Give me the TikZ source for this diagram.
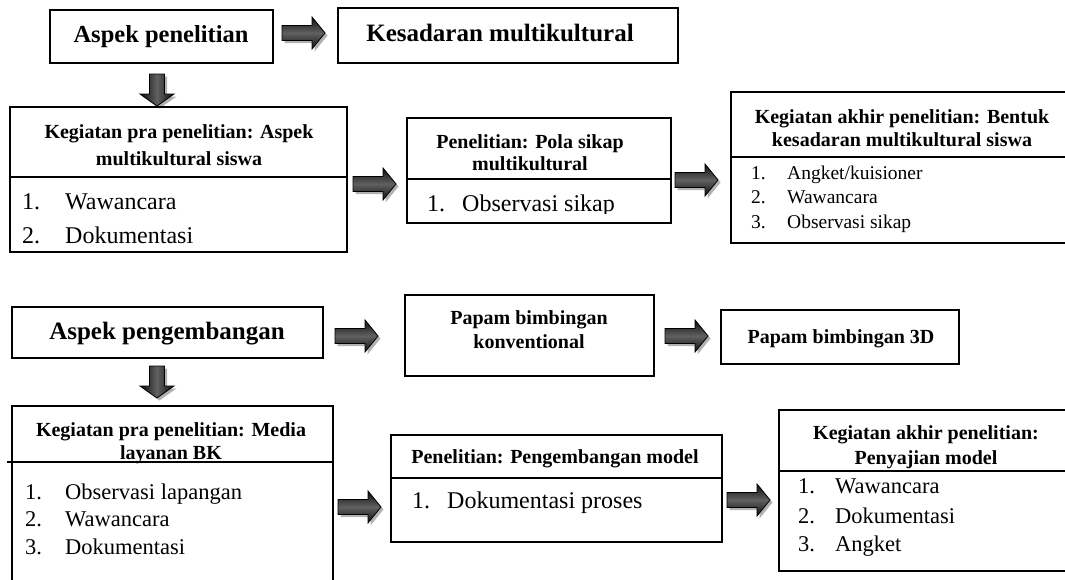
\documentclass[tikz,border=0pt]{standalone}
\usepackage{fontspec}
\setmainfont{Liberation Serif}
\tikzset{
  boxline/.style={draw=black,line width=1.4pt},
  ttl/.style={font=\fontsize{20}{24}\selectfont\bfseries,inner sep=0pt,anchor=mid,yshift=-4.5pt},
  bigttl/.style={font=\fontsize{25}{30}\selectfont\bfseries,inner sep=0pt,anchor=mid,yshift=-4.5pt},
  itm/.style={font=\fontsize{#1}{#1}\selectfont,inner sep=0pt,anchor=mid west,yshift=-4.5pt},
  arrowshadow/.style={fill=black!30,shift={(2.5,2.5)}},
  harrowbody/.style={draw=black,line width=0.8pt,top color=black!95,bottom color=black!95,middle color=black!62},
  varrowbody/.style={draw=black,line width=0.8pt,left color=black!95,right color=black!95,middle color=black!62},
  rarrow/.pic={
    \path[arrowshadow] (0,-7.5) -- (30,-7.5) -- (30,-16) -- (43,0) -- (30,16) -- (30,7.5) -- (0,7.5) -- cycle;
    \path[harrowbody] (0,-7.5) -- (30,-7.5) -- (30,-16) -- (43,0) -- (30,16) -- (30,7.5) -- (0,7.5) -- cycle;
  },
  darrow/.pic={
    \path[arrowshadow] (-7.5,0) -- (-7.5,20) -- (-17,20) -- (0,32) -- (17,20) -- (7.5,20) -- (7.5,0) -- cycle;
    \path[varrowbody] (-7.5,0) -- (-7.5,20) -- (-17,20) -- (0,32) -- (17,20) -- (7.5,20) -- (7.5,0) -- cycle;
  }
}
\begin{document}
\begin{tikzpicture}[x=1pt,y=-1pt]
\useasboundingbox (0,0) rectangle (1065,579);
\fill[white] (0,0) rectangle (1065,579);

% ---------- Aspek penelitian ----------
\draw[boxline] (50,10) rectangle (273,63);
\node[bigttl,font=\fontsize{24.5}{29}\selectfont\bfseries] (ap) at (161,36) {Aspek penelitian};

\draw[boxline] (338,8) rectangle (678,63);
\node[bigttl] (km) at (500,35) {Kesadaran multikultural};

\pic (a1) at (282,33) {rarrow};
\pic (d1) at (157,74) {darrow};

% box 1
\draw[boxline] (10,107) rectangle (347,252);
\draw[boxline] (10,177) -- (347,177);
\node[ttl] (b1t1) at (179,132) {Kegiatan pra penelitian: Aspek};
\node[ttl] (b1t2) at (179,159) {multikultural siswa};
\node[itm=24] (b1n1) at (22,203) {1.};
\node[itm=24] (b1i1) at (65,203) {Wawancara};
\node[itm=24] (b1n2) at (22,237) {2.};
\node[itm=24] (b1i2) at (65,237) {Dokumentasi};

\pic (a2) at (353,184) {rarrow};

% box 2
\draw[boxline] (407,118) rectangle (671,223);
\draw[boxline] (407,179) -- (671,179);
\node[ttl] (b2t1) at (530,142) {Penelitian: Pola sikap};
\node[ttl] (b2t2) at (530,164) {multikultural};
\begin{scope}
  \clip (408,180) rectangle (670,213);
  \node[itm=24] (b2n1) at (427,205) {1.};
  \node[itm=24] (b2i1) at (462,205) {Observasi sikap};
\end{scope}

\pic (a3) at (675,180) {rarrow};

% box 3
\draw[boxline] (1070,92) -- (731,92) -- (731,243) -- (1070,243);
\draw[boxline] (731,157) -- (1070,157);
\node[ttl] (b3t1) at (902,117) {Kegiatan akhir penelitian: Bentuk};
\node[ttl] (b3t2) at (902,140) {kesadaran multikultural siswa};
\node[itm=19.5] (b3n1) at (751,173) {1.};
\node[itm=19.5] (b3i1) at (787,173) {Angket/kuisioner};
\node[itm=19.5] (b3n2) at (751,197) {2.};
\node[itm=19.5] (b3i2) at (787,197) {Wawancara};
\node[itm=19.5] (b3n3) at (751,222) {3.};
\node[itm=19.5] (b3i3) at (787,222) {Observasi sikap};

% ---------- Aspek pengembangan ----------
\draw[boxline] (12,307) rectangle (323,358);
\node[bigttl] (apg) at (167,333) {Aspek pengembangan};

\pic (a4) at (335,336) {rarrow};

\draw[boxline] (405,295) rectangle (654,376);
\node[ttl] (pk1) at (529,318) {Papam bimbingan};
\node[ttl] (pk2) at (529,342) {konventional};

\pic (a5) at (665,336) {rarrow};

\draw[boxline] (721,310) rectangle (959,364);
\node[ttl] (p3d) at (841,337) {Papam bimbingan 3D};

\pic (d2) at (157,366) {darrow};

% box 4
\draw[boxline] (12,585) -- (12,406) -- (333,406) -- (333,585);
\draw[boxline] (7,462) -- (333,462);
\node[ttl] (b4t1) at (171,430) {Kegiatan pra penelitian: Media};
\node[ttl] (b4t2) at (171,453) {layanan BK};
\node[itm=22.5] (b4n1) at (25,493) {1.};
\node[itm=22.5] (b4i1) at (65,493) {Observasi lapangan};
\node[itm=22.5] (b4n2) at (25,520) {2.};
\node[itm=22.5] (b4i2) at (65,520) {Wawancara};
\node[itm=22.5] (b4n3) at (25,548) {3.};
\node[itm=22.5] (b4i3) at (65,548) {Dokumentasi};

\pic (a6) at (338,507) {rarrow};

% box 5
\draw[boxline] (391,435) rectangle (722,542);
\draw[boxline] (391,478) -- (722,478);
\node[ttl] (b5t1) at (555,457) {Penelitian: Pengembangan model};
\node[itm=24] (b5n1) at (412,502) {1.};
\node[itm=24] (b5i1) at (447,502) {Dokumentasi proses};

\pic (a7) at (727,500) {rarrow};

% box 6
\draw[boxline] (1070,410) -- (779,410) -- (779,571) -- (1070,571);
\draw[boxline] (779,471) -- (1070,471);
\node[ttl] (b6t1) at (926,433) {Kegiatan akhir penelitian:};
\node[ttl] (b6t2) at (926,458) {Penyajian model};
\node[itm=22.5] (b6n1) at (798,487) {1.};
\node[itm=22.5] (b6i1) at (835,487) {Wawancara};
\node[itm=22.5] (b6n2) at (798,517) {2.};
\node[itm=22.5] (b6i2) at (835,517) {Dokumentasi};
\node[itm=22.5] (b6n3) at (798,545) {3.};
\node[itm=22.5] (b6i3) at (835,545) {Angket};
\end{tikzpicture}
\end{document}
